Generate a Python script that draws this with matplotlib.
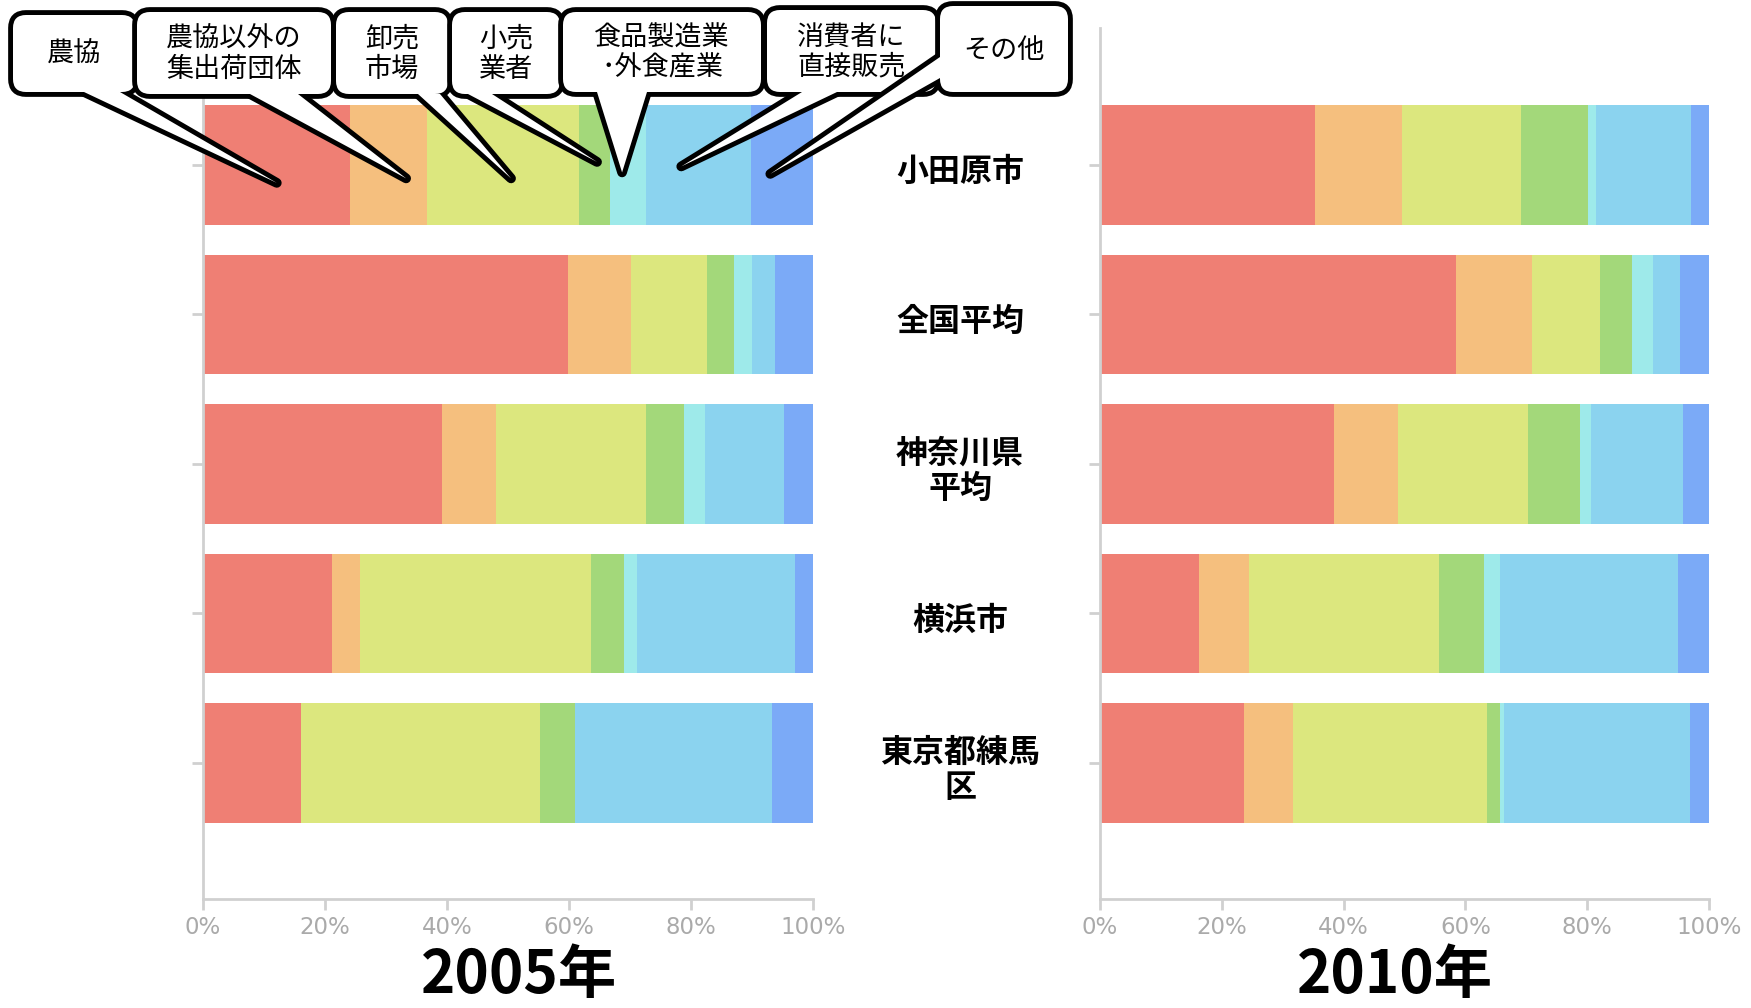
import matplotlib
matplotlib.use("Agg")
import matplotlib.pyplot as plt
import numpy as np
from matplotlib.patches import FancyBboxPatch, Polygon
from matplotlib.transforms import blended_transform_factory

plt.rcParams["font.family"] = ["Noto Sans CJK JP", "DejaVu Sans"]

# --- data -------------------------------------------------------------
places = ["小田原市", "全国平均", "神奈川県\n平均", "横浜市", "東京都練馬\n区"]
channels = ["農協", "農協以外の\n集出荷団体", "卸売\n市場", "小売\n業者",
            "食品製造業\n･外食産業", "消費者に\n直接販売", "その他"]
colors = ["#EF7F74", "#F5BF7E", "#DCE77E", "#A3D87A", "#9EEAEA", "#8BD3EF", "#7BAAF7"]
years = ["2005年", "2010年"]

# share (%) per place, in channel order
shares_2005 = [
    [24.1, 12.7, 24.8, 5.1, 5.9, 17.2, 10.2],
    [59.8, 10.3, 12.5, 4.4, 3.0, 3.7, 6.3],
    [39.2, 8.8, 24.6, 6.2, 3.5, 12.9, 4.8],
    [21.1, 4.7, 37.8, 5.4, 2.1, 25.9, 3.0],
    [16.0, 0.0, 39.2, 5.8, 0.0, 32.3, 6.7],
]
shares_2010 = [
    [35.3, 14.3, 19.6, 10.9, 1.4, 15.6, 2.9],
    [58.4, 12.5, 11.2, 5.3, 3.4, 4.5, 4.7],
    [38.4, 10.5, 21.3, 8.6, 1.9, 15.0, 4.3],
    [16.2, 8.2, 31.3, 7.4, 2.5, 29.3, 5.1],
    [23.7, 8.0, 31.8, 2.2, 0.6, 30.6, 3.1],
]

W, H = 1751, 1008
fig = plt.figure(figsize=(W / 100, H / 100), dpi=100)


def px_rect(x0, y0, x1, y1):
    return [x0 / W, (H - y1) / H, (x1 - x0) / W, (y1 - y0) / H]


def draw_bars(ax, shares):
    shares = np.array(shares)
    y = np.arange(len(places))
    left = np.zeros(len(places))
    for j in range(len(channels)):
        ax.barh(y, shares[:, j], left=left, height=0.8, color=colors[j], linewidth=0)
        left += shares[:, j]
    ax.set_xlim(0, 100)
    ax.set_ylim(len(places) - 1 + 0.91, -0.916)
    ax.set_xticks(range(0, 101, 20))
    ax.set_xticklabels([f"{v}%" for v in range(0, 101, 20)], family="DejaVu Sans")
    ax.set_yticks(y)
    ax.set_yticklabels([])
    for s in ["top", "right"]:
        ax.spines[s].set_visible(False)
    for s in ["left", "bottom"]:
        ax.spines[s].set_color("#d0d0d0")
        ax.spines[s].set_linewidth(2)
    ax.tick_params(axis="both", color="#d0d0d0", length=8, width=2)
    ax.tick_params(axis="x", labelcolor="#aaaaaa", labelsize=16.5, pad=4)


ax1 = fig.add_axes(px_rect(203, 28, 813, 899))
ax2 = fig.add_axes(px_rect(1100, 28, 1709, 899))
draw_bars(ax1, shares_2005)
draw_bars(ax2, shares_2010)

# place names between the two charts
tr = blended_transform_factory(fig.transFigure, ax2.transData)
for i, name in enumerate(places):
    ax2.text(960 / W, i + 0.05, name, transform=tr, ha="center", va="center",
             fontsize=23, fontweight="bold", linespacing=1.15, clip_on=False)

fig.text(519 / W, 2 / H, years[0], ha="center", va="bottom",
         fontsize=42, fontweight="bold")
fig.text(1395 / W, 2 / H, years[1], ha="center", va="bottom",
         fontsize=42, fontweight="bold")

# --- callouts naming each channel -------------------------------------
ov = fig.add_axes([0, 0, 1, 1], zorder=10)
ov.set_xlim(0, W)
ov.set_ylim(H, 0)
ov.axis("off")

boxes = [(13, 135, 15, 92), (137, 331, 12, 94), (336, 448, 12, 94), (452, 560, 12, 94),
         (563, 761, 12, 92), (767, 936, 10, 92), (940, 1068, 6, 92)]
bases = [((84, 92), (120, 92)), ((250, 94), (298, 94)), ((418, 94), (440, 94)),
         ((468, 94), (492, 94)), ((597, 92), (647, 92)), ((802, 92), (837, 92)),
         ((940, 57), (940, 78))]
tip_pct = [12.1, 33.3, 50.5, 64.6, 68.7, 78.4, 93.0]
tip_dy = [0.12, 0.09, 0.09, -0.02, 0.05, 0.01, 0.06]

to_ov = ov.transData.inverted()
for i, label in enumerate(channels):
    x0, x1, y0, y1 = boxes[i]
    tip = to_ov.transform(ax1.transData.transform((tip_pct[i], tip_dy[i])))
    b0, b1 = bases[i]
    z = 2 * i + 1
    for face, edge, lw, zz in [("white", "black", 7, z), ("white", "none", 0, z + 0.5)]:
        ov.add_patch(Polygon([b0, tuple(tip), b1], closed=True, facecolor=face,
                             edgecolor=edge, linewidth=lw, joinstyle="round", zorder=zz))
        ov.add_patch(FancyBboxPatch((x0, y0), x1 - x0, y1 - y0,
                                    boxstyle="round,pad=0,rounding_size=13",
                                    facecolor=face, edgecolor=edge, linewidth=lw, zorder=zz))
    ov.text((x0 + x1) / 2, (y0 + y1) / 2 + 1, label, ha="center", va="center",
            fontsize=19.5, linespacing=1.15, zorder=z + 0.7)

fig.savefig("out.png", dpi=100)
